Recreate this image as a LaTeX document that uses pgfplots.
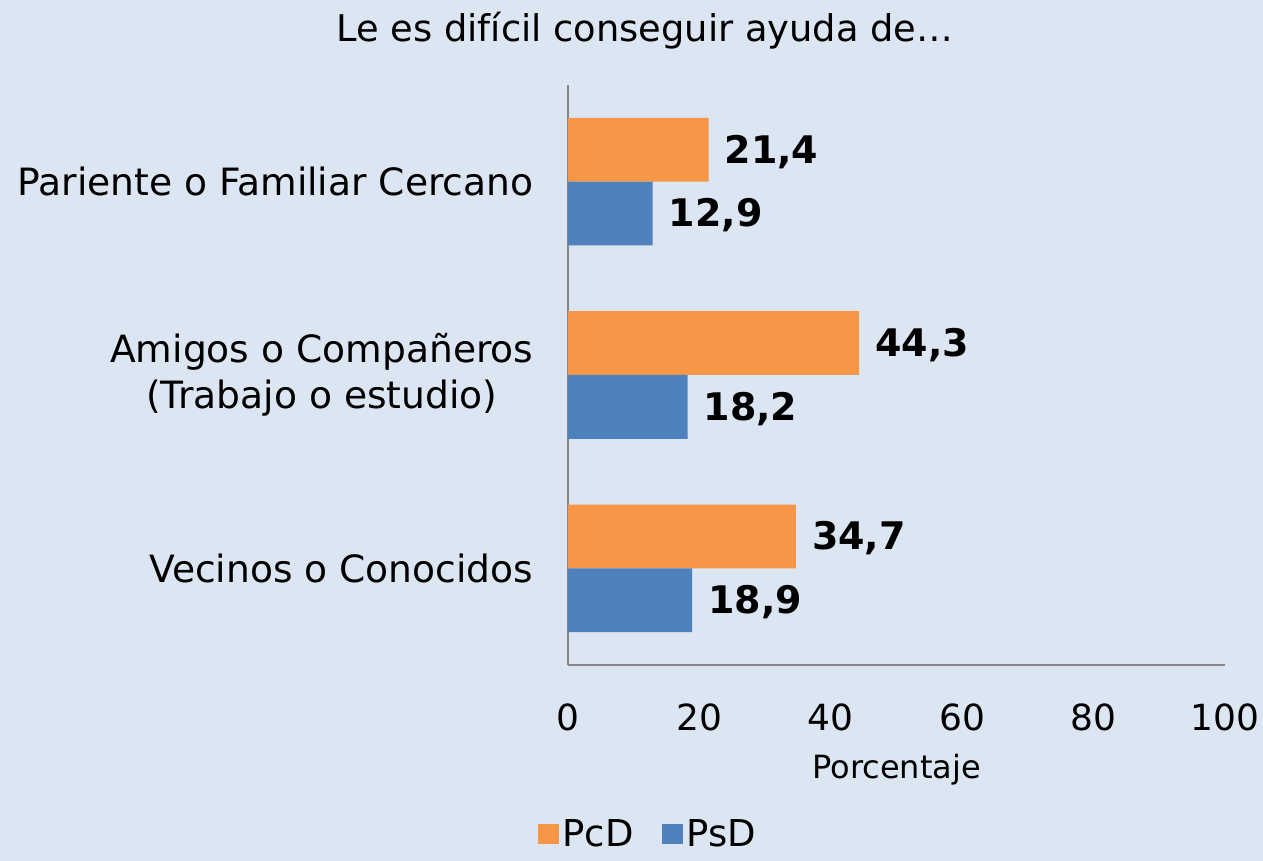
\documentclass[border=0pt]{standalone}
\usepackage{fontspec}
\setmainfont{DejaVu Sans}
\usepackage{pgfplots}
\pgfplotsset{compat=1.18}
\definecolor{bg}{HTML}{DCE6F2}
\definecolor{pcd}{HTML}{F79646}
\definecolor{psd}{HTML}{4F81BD}
\definecolor{axisgray}{HTML}{868686}
\begin{document}
\begin{tikzpicture}
\fill[bg] (-284pt,-98pt) rectangle (347.5pt,332.5pt);
\useasboundingbox (-284pt,-98pt) rectangle (347.5pt,332.5pt);
\begin{axis}[
  at={(0,0)}, anchor=south west,
  scale only axis, width=328.5pt, height=290pt,
  xbar, bar width=0.33,
  xmin=0, xmax=100, ymin=-0.5, ymax=2.5,
  xtick={0,20,...,100},
  ytick={0,1,2},
  yticklabels={Vecinos o Conocidos,{Amigos o Compañeros\\(Trabajo o estudio)},Pariente o Familiar Cercano},
  axis x line*=bottom, axis y line*=left,
  axis line style={axisgray, line width=0.8pt},
  tick style={draw=none},
  /pgf/number format/assume math mode=true,
  xticklabel style={yshift=-16pt, font=\fontsize{18}{23}\selectfont},
  yticklabel style={align=center, xshift=-9.5pt, font=\fontsize{18.8}{23}\selectfont},
  xlabel={Porcentaje},
  xlabel style={at={(rel axis cs:0.5,-0.18)}, anchor=center, font=\fontsize{16}{18}\selectfont},
  clip=false,
  nodes near coords,
  nodes near coords align=horizontal,
  every node near coord/.append style={font=\bfseries\fontsize{19}{21}\selectfont, black, anchor=west, xshift=4.5pt, yshift=-1pt,
    /pgf/number format/.cd, fixed, fixed zerofill, precision=1, use comma},
  legend style={at={(rel axis cs:0.123,-0.292)}, anchor=center, legend columns=2, draw=none, fill=none,
    font=\fontsize{18.5}{20}\selectfont, /tikz/every even column/.append style={column sep=12pt}},
  legend image code/.code={\fill[#1] (-2pt,-5pt) rectangle (8.5pt,5pt);},
]
\addplot[fill=pcd, draw=none, bar shift=0.165] coordinates {(34.7,0) (44.3,1) (21.4,2)};
\addplot[fill=psd, draw=none, bar shift=-0.165] coordinates {(18.9,0) (18.2,1) (12.9,2)};
\legend{PcD, PsD}
\node[font=\fontsize{18.4}{20}\selectfont] at (rel axis cs:0.117,1.093) {Le es difícil conseguir ayuda de…};
\end{axis}
\end{tikzpicture}
\end{document}
